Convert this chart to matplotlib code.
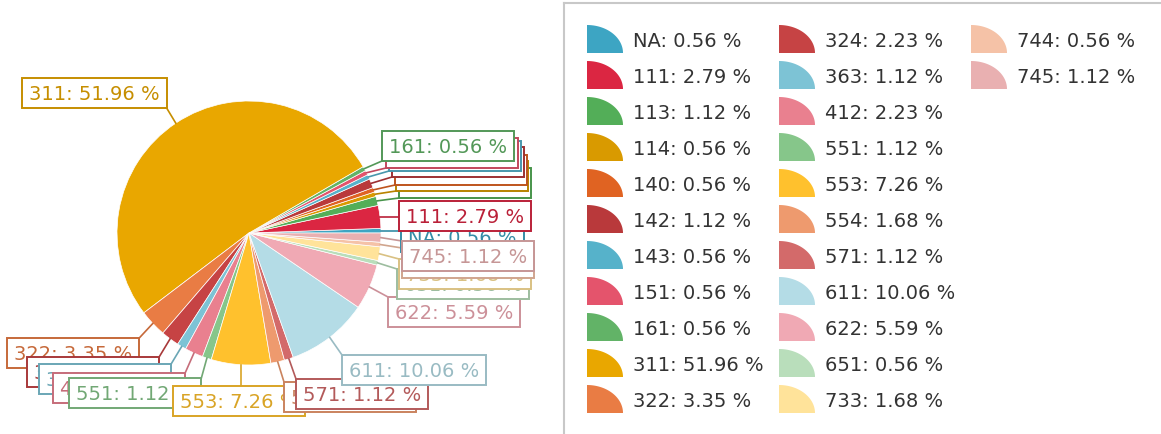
import matplotlib
matplotlib.use("Agg")
import matplotlib.pyplot as plt
import matplotlib.colors as mcolors
from matplotlib.patches import Rectangle, Polygon
import numpy as np

W, H = 1161, 434

# ── Data ───────────────────────────────────────────────────────────────────────
codes = ["NA", "111", "113", "114", "140", "142", "143", "151", "161", "311", "322", "324",
         "363", "412", "551", "553", "554", "571", "611", "622", "651", "733", "744", "745"]
counts = [1, 5, 2, 1, 1, 2, 1, 1, 1, 93, 6, 4,
          2, 4, 2, 13, 3, 2, 18, 10, 1, 3, 1, 2]
colors = ["#3da5c3", "#db2642", "#53ae58", "#d99a00", "#e06322", "#b9393b", "#56b2ca", "#e4546c",
          "#62b367", "#e9a700", "#e97c44", "#c64344", "#7dc3d5", "#e9808f", "#86c68a", "#ffc12d",
          "#ee9a6e", "#d36a6a", "#b4dce6", "#f0a9b4", "#b9debb", "#ffe39a", "#f5c2a7", "#e9b0b1"]

# label box top-left corners, image pixels (y down)
label_boxes = [(401, 222), (399, 201), (399, 168), (396, 161), (395, 155), (392, 147),
               (389, 141), (386, 138), (382, 131), (22, 78), (7, 338), (27, 357),
               (39, 364), (53, 373), (69, 378), (173, 386), (284, 382), (296, 379),
               (342, 355), (388, 297), (397, 269), (399, 259), (402, 248), (402, 241)]

_FONT = "DejaVu Sans"
_TEXT = "#333333"
_BORDER = "#c8c8c8"


def darker(c, f=0.85):
    return tuple(v * f for v in mcolors.to_rgb(c))


fig = plt.figure(figsize=(W / 100, H / 100), dpi=100)
ax = fig.add_axes([0, 0, 1, 1])

total = sum(counts)
pcts = [c / total * 100 for c in counts]
texts = [f"{code}: {p:.2f} %" for code, p in zip(codes, pcts)]

cx, cy, r = 249, H - 233, 132
wedges, _ = ax.pie(counts, colors=colors, center=(cx, cy), radius=r, startangle=0,
                   counterclock=True, wedgeprops=dict(edgecolor="white", linewidth=0.5))
ax.set_aspect("auto")
ax.set_xlim(0, W)
ax.set_ylim(0, H)
ax.axis("off")

renderer = fig.canvas.get_renderer()
box_h = 30
for i, (w, txt, col, (left, top)) in enumerate(zip(wedges, texts, colors, label_boxes)):
    dc = darker(col)
    t = ax.text(left + 7, H - top - 22, txt, fontsize=14, family=_FONT, color=dc,
                ha="left", va="baseline", zorder=11 + 2 * i)
    ext = t.get_window_extent(renderer)
    bw = ext.width + 14
    y0 = H - top - box_h
    ax.add_patch(Rectangle((left, y0), bw, box_h, facecolor="white", edgecolor=dc,
                           linewidth=1.4, zorder=10 + 2 * i))
    mid = np.deg2rad((w.theta1 + w.theta2) / 2)
    ex, ey = cx + r * np.cos(mid), cy + r * np.sin(mid)
    px = min(max(ex, left), left + bw)
    py = min(max(ey, y0), y0 + box_h)
    ax.plot([ex, px], [ey, py], color=dc, linewidth=1.2, zorder=5)

# ── Legend ─────────────────────────────────────────────────────────────────────
ax.plot([564, W], [H - 3, H - 3], color=_BORDER, linewidth=1.5, zorder=2)
ax.plot([564, 564], [H - 3, 0], color=_BORDER, linewidth=1.5, zorder=2)

t_arc = np.linspace(0, np.pi / 2, 40)
for k, (txt, col) in enumerate(zip(texts, colors)):
    c, row = divmod(k, 11)
    x0 = 587 + 192 * c
    yb = H - (53 + 36 * row)
    pts = [(x0, yb)] + [(x0 + 36 * np.cos(a), yb + 28 * np.sin(a)) for a in t_arc]
    ax.add_patch(Polygon(pts, closed=True, facecolor=col, edgecolor="none", zorder=3))
    ax.text(x0 + 46, H - (47 + 36 * row), txt, fontsize=14, family=_FONT, color=_TEXT,
            ha="left", va="baseline", zorder=3)

fig.savefig("out.png", dpi=100, facecolor="white")
plt.close(fig)
